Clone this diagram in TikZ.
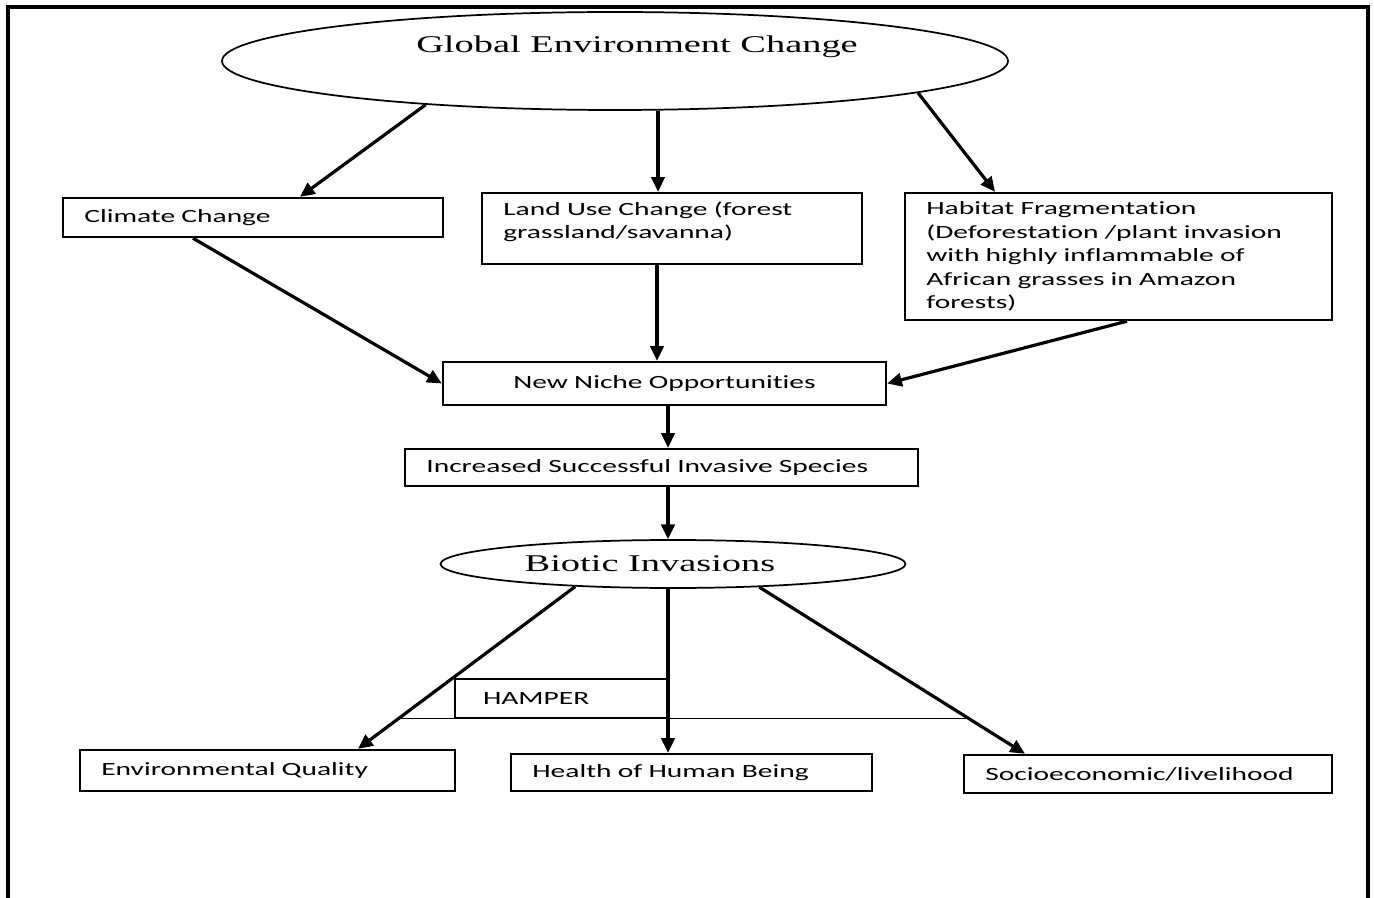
\documentclass[tikz,border=0pt]{standalone}
\usepackage{fontspec}
\usetikzlibrary{shapes.geometric,arrows.meta,calc}
\newfontfamily\boxfont[FakeStretch=1.58,Ligatures={NoCommon,NoContextual}]{Carlito}
\newfontfamily\ovalfont[FakeStretch=1.6]{Liberation Serif}
\tikzset{flowbox/.style={draw,line width=1.8pt,inner xsep=16pt,inner ysep=0pt,align=left,
   font=\boxfont\fontsize{14}{17.6}\selectfont},
 oval/.style={draw,ellipse,line width=1.3pt,inner sep=0pt},
 ovaltext/.style={font=\ovalfont\fontsize{18}{21}\selectfont},
 arr/.style={-{Triangle[length=11pt,width=10pt]},line width=2.4pt},
 }

\begin{document}
\begin{tikzpicture}[x=0.75pt,y=-0.75pt]
        \useasboundingbox (0,0) rectangle (1374,898);
        \draw[line width=2.4pt] (8,920) -- (8,7) -- (1368,7) -- (1368,920);
        \node[oval,minimum width=589.5pt,minimum height=73.5pt,
            label={[ovaltext,xshift=16.5pt,yshift=11pt]center:Global Environment Change}] (gec) at (615,61) {};
        \node[flowbox,text width=253pt,minimum height=29.25pt] (clim) at (253,217.5) {Climate Change};
        \node[flowbox,text width=253pt,minimum height=53.25pt,text depth=30pt] (land) at (672,228.5) {Land Use Change (forest\\grassland/savanna)};
        \node[flowbox,text width=288.25pt,minimum height=95.25pt] (habit) at (1118.5,256.5) {Habitat Fragmentation\\(Deforestation /plant invasion\\with highly inflammable of\\African grasses in Amazon\\forests)};
        \node[flowbox,align=center,text width=300.25pt,minimum height=32.25pt] (niche) at (664.5,383.5) {New Niche Opportunities};
        \node[flowbox,text width=352.75pt,minimum height=27.75pt] (incr) at (661.5,467.5) {Increased Successful Invasive Species};
        \node[oval,minimum width=348.75pt,minimum height=36pt,
            label={[ovaltext,xshift=-17.25pt]center:Biotic Invasions}] (bio) at (673,564) {};
        \node[flowbox,line width=1.1pt,inner xsep=21pt,text width=117pt,minimum height=29.25pt] (hamper) at (561,698.5) {HAMPER};
        \node[flowbox,text width=249.25pt,minimum height=30.75pt] (envq) at (267.5,770.5) {Environmental Quality};
        \node[flowbox,text width=238.75pt,minimum height=27.75pt] (health) at (691.5,772.5) {Health of Human Being};
        \node[flowbox,text width=244pt,minimum height=28.5pt] (socio) at (1148,774) {Socioeconomic/livelihood};

        \coordinate (lu) at ($(land.north)+(-14,0)$);
        \coordinate (ld) at ($(land.south)+(-15,0)$);
        \coordinate (nd) at ($(niche.south)+(3.5,0)$);
        \coordinate (id) at ($(incr.south)+(6.5,0)$);
        \coordinate (hd) at ($(health.north)+(-23.5,0)$);
        \draw[arr] (gec.193) -- ($(clim.north)+(47,0)$);
        \draw[arr] (lu |- gec.south) -- (lu);
        \draw[arr] (gec.-6.5) -- ($(habit.north)+(-123.5,0)$);
        \draw[arr] ($(clim.south)+(-60,0)$) -- (niche.west);
        \draw[arr] (ld) -- (ld |- niche.north);
        \draw[arr] ($(habit.south)+(8.5,0)$) -- (niche.east);
        \draw[arr] (nd) -- (nd |- incr.north);
        \draw[arr] (id) -- (id |- bio.north);
        \draw[arr] (bio.193) -- coordinate[pos=0.8] (hl) ($(envq.north)+(90.5,0)$);
        \draw[arr] (hd |- bio.south) -- (hd);
        \draw[arr] (bio.-15) -- coordinate[pos=0.78] (hr) ($(socio.north)+(-123,0)$);
        \draw[line width=1.1pt] (hamper.south -| hl) -- (hamper.south -| hr);
    \end{tikzpicture}
\end{document}
